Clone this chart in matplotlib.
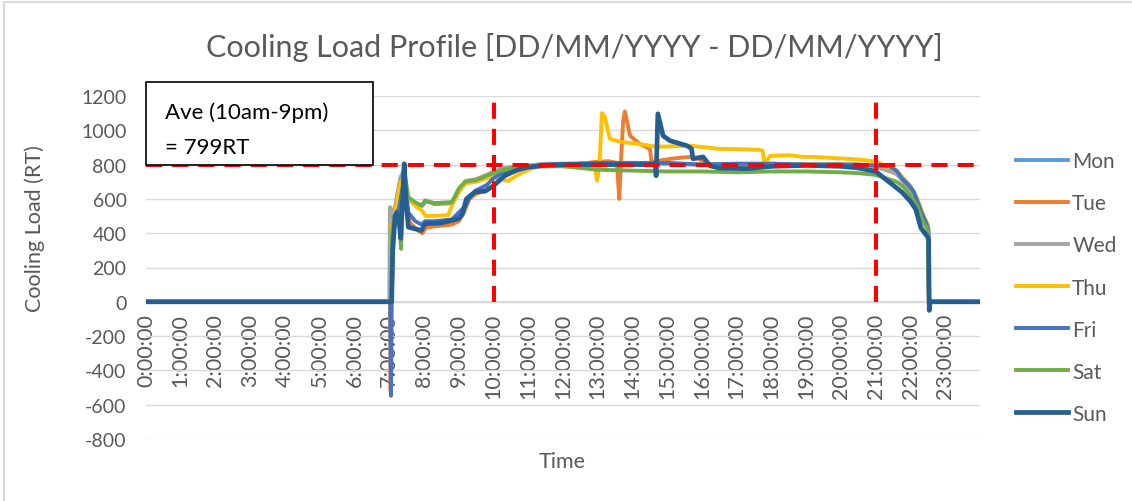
import matplotlib
matplotlib.use("Agg")
import matplotlib.pyplot as plt
from matplotlib.patches import Rectangle

plt.rcParams['font.family'] = ['Lato', 'DejaVu Sans']
plt.rcParams['axes.unicode_minus'] = False

# hours of the day and cooling load (RT), one pair per day
mon_t = [0, 7.05, 7.08, 7.15, 7.25, 7.33, 7.40, 7.48, 7.60, 7.80, 7.95, 8.05, 8.30, 8.80, 9.00, 9.20, 9.50, 9.80,
         10.0, 10.3, 10.7, 11.0, 11.5, 12.0, 13.0, 14.0, 15.0, 16.0, 17.0, 18.0, 19.0, 20.0, 20.5, 21.0, 21.3,
         21.6, 21.8, 22.0, 22.2, 22.35, 22.5, 22.53, 24]
mon_v = [0, 0, 480, 520, 640, 720, 760, 640, 590, 570, 560, 590, 570, 575, 640, 700, 705, 735,
         755, 775, 785, 790, 800, 805, 805, 810, 805, 800, 800, 805, 800, 800, 795, 785, 770,
         750, 700, 660, 590, 490, 430, 0, 0]

tue_t = [0, 7.02, 7.04, 7.06, 7.10, 7.20, 7.30, 7.40, 7.47, 7.60, 7.80, 7.95, 8.05, 8.30, 8.80, 9.0, 9.15, 9.30,
         9.50, 9.80, 10.0, 10.3, 10.7, 11.0, 11.5, 12.0, 12.5, 12.9, 13.3, 13.55, 13.62, 13.66, 13.73, 13.78,
         13.93, 14.2, 14.5, 14.55, 15.1, 15.65, 15.9, 16.2, 17.0, 18.0, 19.0, 20.0, 20.5, 21.0, 21.3, 21.6,
         21.8, 22.0, 22.2, 22.35, 22.5, 22.53, 24]
tue_v = [0, 0, -520, 0, 420, 500, 560, 650, 620, 460, 420, 400, 430, 440, 450, 470, 520, 600,
         630, 650, 680, 730, 770, 785, 795, 800, 805, 815, 820, 810, 600, 790, 1050, 1110,
         968, 921, 892, 816, 834, 845, 834, 800, 795, 800, 800, 800, 800, 790, 770, 750,
         700, 655, 585, 495, 430, 0, 0]

wed_t = [0, 7.0, 7.02, 7.06, 7.15, 7.25, 7.33, 7.40, 7.50, 7.65, 7.85, 7.95, 8.05, 8.30, 8.80, 9.00, 9.20, 9.50,
         9.80, 10.0, 10.3, 10.7, 11.0, 11.5, 12.0, 13.0, 14.0, 15.0, 16.0, 17.0, 18.0, 19.0, 20.0, 20.5,
         21.0, 21.3, 21.6, 21.8, 22.0, 22.2, 22.35, 22.5, 22.53, 24]
wed_v = [0, 0, 552, 540, 530, 650, 730, 700, 610, 580, 570, 560, 585, 575, 580, 650, 705, 715,
         740, 760, 780, 790, 795, 805, 805, 810, 810, 805, 800, 805, 805, 800, 800, 795,
         790, 770, 745, 700, 655, 585, 490, 430, 0, 0]

thu_t = [0, 7.05, 7.08, 7.15, 7.25, 7.33, 7.42, 7.55, 7.75, 7.95, 8.05, 8.15, 8.70, 8.80, 9.00, 9.20, 9.50, 9.80,
         10.0, 10.2, 10.42, 10.7, 11.0, 11.3, 11.5, 12.0, 12.5, 12.9, 12.98, 13.05, 13.12, 13.2, 13.35, 13.64,
         14.0, 14.7, 15.65, 16.5, 17.0, 17.67, 17.75, 17.8, 17.96, 18.5, 18.9, 19.2, 20.17, 20.5, 20.83, 21.03,
         21.3, 21.6, 21.8, 22.0, 22.2, 22.38, 22.5, 22.53, 24]
thu_v = [0, 0, 450, 500, 620, 700, 690, 600, 560, 530, 500, 500, 505, 560, 640, 690, 700, 720,
         730, 715, 705, 740, 770, 790, 795, 800, 800, 805, 706, 800, 1100, 1080, 950, 933,
         925, 904, 910, 892, 890, 886, 880, 805, 851, 855, 845, 845, 834, 830, 822, 816,
         790, 765, 720, 675, 600, 500, 450, 0, 0]

fri_t = [0, 7.03, 7.05, 7.07, 7.12, 7.20, 7.28, 7.36, 7.45, 7.55, 7.75, 7.93, 8.03, 8.3, 8.8, 9.0, 9.2, 9.35,
         9.5, 9.8, 10.0, 10.3, 10.7, 11.0, 11.5, 12.0, 13.0, 14.0, 15.0, 16.0, 17.0, 18.0, 19.0, 20.0,
         20.5, 21.0, 21.4, 21.6, 21.75, 21.95, 22.1, 22.3, 22.45, 22.52, 22.54, 22.56, 24]
fri_v = [0, 0, -548, 0, 460, 520, 540, 640, 700, 520, 470, 450, 470, 470, 480, 520, 560, 620,
         650, 680, 720, 760, 780, 790, 800, 800, 810, 810, 810, 800, 805, 805, 800, 800,
         800, 795, 790, 764, 720, 680, 640, 530, 460, 420, -50, 0, 0]

sat_t = [0, 7.05, 7.08, 7.15, 7.22, 7.30, 7.34, 7.40, 7.45, 7.55, 7.75, 7.93, 8.03, 8.3, 8.8, 9.0, 9.18, 9.5,
         9.8, 10.0, 10.3, 10.7, 11.0, 11.5, 12.0, 12.5, 13.0, 14.0, 15.0, 16.0, 17.0, 18.0, 19.0, 20.0,
         20.5, 21.0, 21.3, 21.6, 21.8, 22.0, 22.2, 22.35, 22.5, 22.53, 24]
sat_v = [0, 0, 400, 500, 520, 450, 309, 720, 740, 610, 580, 560, 590, 575, 580, 660, 700, 710,
         735, 750, 770, 785, 790, 790, 790, 780, 770, 765, 760, 760, 755, 760, 760, 755,
         750, 740, 720, 700, 670, 620, 555, 470, 420, 0, 0]

sun_t = [0, 7.07, 7.10, 7.17, 7.22, 7.28, 7.33, 7.39, 7.43, 7.48, 7.55, 7.75, 7.93, 8.03, 8.5, 8.99, 9.10, 9.22,
         9.47, 9.76, 10.0, 10.33, 10.7, 11.0, 11.5, 12.0, 13.0, 14.0, 14.6, 14.66, 14.68, 14.73, 14.88, 15.08,
         15.57, 15.70, 15.74, 16.03, 16.23, 16.5, 17.3, 18.0, 19.0, 20.0, 20.5, 21.0, 21.25, 21.5, 21.75,
         22.0, 22.15, 22.3, 22.45, 22.52, 22.54, 22.56, 24]
sun_v = [0, 0, 300, 500, 520, 480, 370, 620, 805, 600, 435, 425, 416, 455, 460, 484, 510, 600,
         641, 645, 676, 737, 770, 785, 795, 800, 800, 800, 800, 790, 735, 1096, 968, 939,
         910, 892, 834, 845, 793, 780, 776, 790, 795, 790, 780, 760, 720, 680, 640,
         585, 540, 430, 390, 370, -50, 0, 0]

days = ["Mon", "Tue", "Wed", "Thu", "Fri", "Sat", "Sun"]
times = [mon_t, tue_t, wed_t, thu_t, fri_t, sat_t, sun_t]
loads = [mon_v, tue_v, wed_v, thu_v, fri_v, sat_v, sun_v]
colors = ["#5B9BD5", "#ED7D31", "#A5A5A5", "#FFC000", "#4472C4", "#70AD47", "#255E91"]

ave_load = 799
window = [10, 21]
hour_labels = ["%d:00:00" % h for h in range(24)]

W, H = 1132, 502


def px(x, y):
    return x / W, 1 - y / H


fig = plt.figure(figsize=(W / 100, H / 100), dpi=100)
ax = fig.add_axes([146 / W, 62 / H, (980 - 146) / W, (440 - 97) / H])

txt = "#595959"
grid = "#D9D9D9"

lines = []
for t, v, c, d in zip(times, loads, colors, days):
    lw = 3.4 if d == "Sun" else 2.8
    ln, = ax.plot(t, v, color=c, lw=lw, solid_joinstyle="round", zorder=3)
    lines.append(ln)

ax.axhline(ave_load, color="red", lw=2.9, dashes=(4, 2.5), zorder=5)
for h in window:
    ax.plot([h, h], [0, 1175], color="red", lw=2.9, dashes=(4, 2.5), zorder=5)

ax.set_xlim(0, 24)
ax.set_ylim(-800, 1200)
ax.set_yticks(range(-800, 1201, 200))
ax.set_xticks(range(24))
ax.set_xticklabels(hour_labels)
ax.yaxis.grid(True, color=grid, lw=1)
ax.set_axisbelow(True)
for s in ["top", "right", "left"]:
    ax.spines[s].set_visible(False)
ax.spines["bottom"].set_position(("data", 0))
ax.spines["bottom"].set_color(grid)
ax.spines["bottom"].set_linewidth(1.6)
ax.spines["bottom"].set_zorder(1)
ax.tick_params(axis="both", length=0, colors=txt)
ax.tick_params(axis="y", labelsize=14, pad=14)
ax.tick_params(axis="x", labelsize=15.5, pad=8, labelrotation=90)

fig.text(*px(574, 47), "Cooling Load Profile [DD/MM/YYYY - DD/MM/YYYY]", ha="center", va="center",
         fontsize=22, color=txt)
fig.text(*px(35, 229), "Cooling Load (RT)", rotation=90, ha="center", va="center", fontsize=15.5, color=txt)
fig.text(*px(562, 462), "Time", ha="center", va="center", fontsize=15.5, color=txt)

# annotation box
x0, y0 = px(146, 166)
x1, y1 = px(373, 83)
fig.add_artist(Rectangle((x0, y0), x1 - x0, y1 - y0, transform=fig.transFigure,
                         facecolor="white", edgecolor="black", lw=1.2, zorder=10))
fig.text(*px(165, 113), "Ave (10am-9pm)", ha="left", va="center", fontsize=16, color="black", zorder=11)
fig.text(*px(165, 148), "= %dRT" % ave_load, ha="left", va="center", fontsize=16, color="black", zorder=11)

# chart border
bx, by = px(4, 3)
fig.add_artist(Rectangle((bx, -0.05), 1.1, by + 0.05, transform=fig.transFigure,
                         facecolor="none", edgecolor=grid, lw=1.5))

leg = fig.legend(lines, days, loc="center left", bbox_to_anchor=px(1016, 288.5), frameon=False,
                 fontsize=15, borderpad=0, borderaxespad=0, handlelength=2.5, handletextpad=0.2,
                 labelspacing=1.06, labelcolor=txt)

fig.savefig("out.png", dpi=100)
